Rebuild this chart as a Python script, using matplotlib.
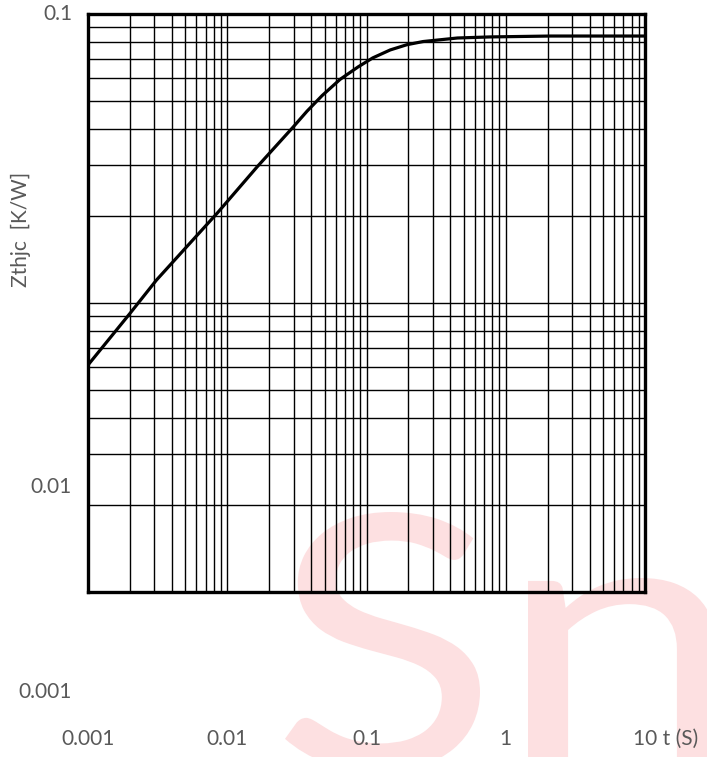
import matplotlib
matplotlib.use("Agg")
import matplotlib.pyplot as plt
from matplotlib.ticker import LogLocator, NullFormatter
from matplotlib.textpath import TextPath
from matplotlib.font_manager import FontProperties
from matplotlib.patches import PathPatch
from matplotlib.transforms import Affine2D, IdentityTransform

# transient thermal impedance
t_s = [0.001, 0.002, 0.0031, 0.0046, 0.0085, 0.0164, 0.0297, 0.0374,
       0.048, 0.0646, 0.087, 0.111, 0.148, 0.195, 0.255, 0.45, 0.77,
       2.1, 10]
zth = [0.0061, 0.0092, 0.012, 0.0148, 0.0205, 0.0296, 0.0406, 0.0461,
       0.0522, 0.0594, 0.0656, 0.0705, 0.0751, 0.0783, 0.0803, 0.0826,
       0.0833, 0.0839, 0.0839]

x_ticks = [0.001, 0.01, 0.1, 1]
x_labels = ["0.001", "0.01", "0.1", "1"]
y_labels = ["0.1", "0.01", "0.001"]
y_label_pos = [14, 487, 692]  # pixel rows where the source put them

W, H = 707, 757
GRAY = "#595959"
PINK = "#fde0e1"
FONT = "Lato"
FS = 15

fig = plt.figure(figsize=(W / 100, H / 100), dpi=100)
ax = fig.add_axes([88 / W, 1 - 592 / H, (645 - 88) / W, (592 - 14) / H])
ax.patch.set_alpha(0)

ax.plot(t_s, zth, color="black", lw=2.3, solid_capstyle="butt",
        solid_joinstyle="round", zorder=3)

ax.set_xscale("log")
ax.set_yscale("log")
ax.set_xlim(0.001, 10)
ax.set_ylim(0.001, 0.1)
for axis in (ax.xaxis, ax.yaxis):
    axis.set_minor_locator(LogLocator(base=10, subs=range(2, 10)))
    axis.set_minor_formatter(NullFormatter())
ax.grid(which="both", color="black", lw=1.0)
ax.tick_params(which="both", length=0, labelbottom=False, labelleft=False)
for sp in ax.spines.values():
    sp.set_linewidth(2.4)

# labels sit where the source had them, not on the grid
for lab, py in zip(y_labels, y_label_pos):
    fig.text(72 / W, 1 - py / H, lab, ha="right", va="center",
             color=GRAY, fontsize=FS, family=FONT)
for xv, lab in zip(x_ticks, x_labels):
    ax.text(xv, -0.255, lab, transform=ax.get_xaxis_transform(),
            ha="center", va="center", color=GRAY, fontsize=FS, family=FONT)
fig.text(633 / W, 1 - 739 / H, "10 t (S)", ha="left", va="center",
         color=GRAY, fontsize=FS, family=FONT)
fig.text(21 / W, 1 - 229 / H, "Zthjc  [K/W]", rotation=90, ha="center",
         va="center", color=GRAY, fontsize=FS, family=FONT)


# watermark letters, fitted to the box they fill in the source (pixels)
def watermark(ch, x0, x1, top, bottom):
    p = TextPath((0, 0), ch, size=100, prop=FontProperties(family=FONT))
    ext = p.get_extents()
    tr = (Affine2D().translate(-ext.x0, -ext.y0)
          .scale((x1 - x0) / ext.width, (bottom - top) / ext.height)
          .translate(x0, H - bottom))
    patch = PathPatch(tr.transform_path(p), facecolor=PINK, lw=0,
                      transform=IdentityTransform(), zorder=-5)
    fig.add_artist(patch)


watermark("S", 285, 480, 512, 772)
watermark("n", 528, 717, 578, 767)

fig.savefig("out.png", dpi=100)
